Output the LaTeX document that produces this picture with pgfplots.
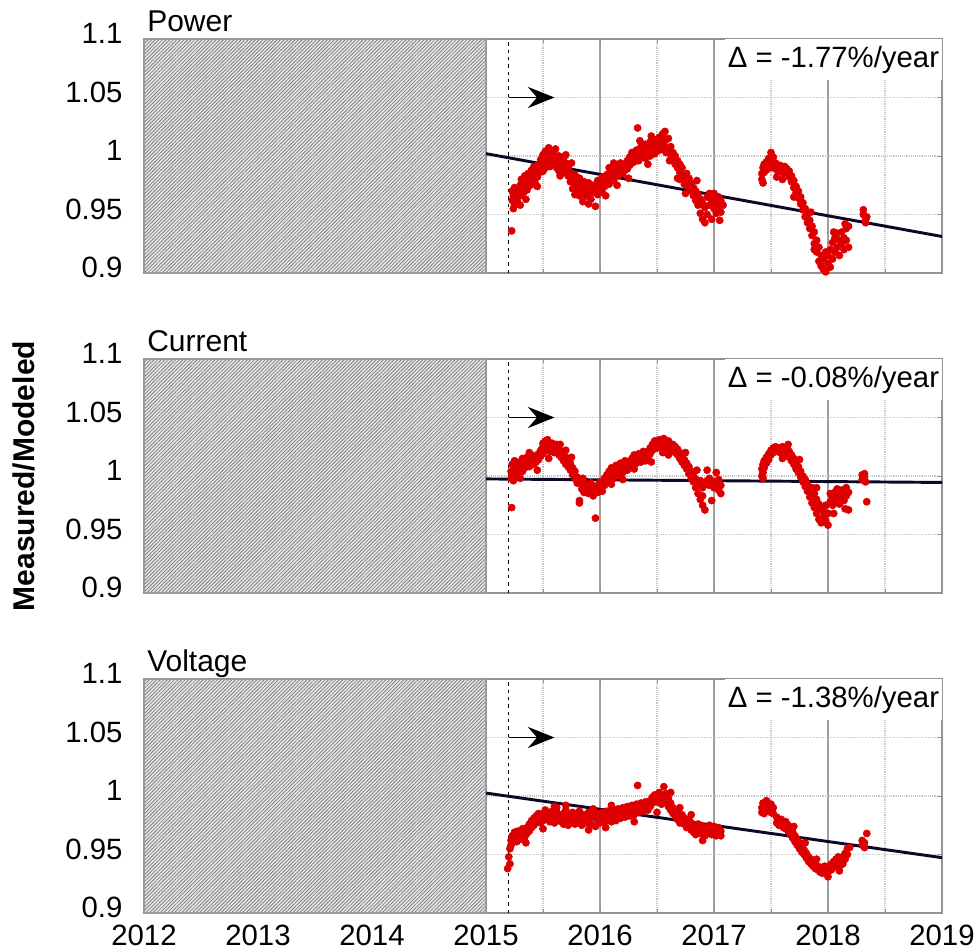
\documentclass[border=0pt]{standalone}
\usepackage{fontspec}
\setmainfont{Liberation Sans}
\usepackage{pgfplots}
\pgfplotsset{compat=1.18}
\usetikzlibrary{patterns.meta,arrows.meta}

\definecolor{dotred}{RGB}{222,0,0}
\definecolor{trendc}{RGB}{10,10,40}

\pgfplotsset{
  panel/.style={
    scale only axis, width=598.5pt, height=175.5pt,
    xmin=2012, xmax=2019, ymin=0.9, ymax=1.1,
    xtick={2012,2013,2014,2015,2016,2017,2018,2019},
    minor xtick={2012.5,2013.5,2014.5,2015.5,2016.5,2017.5,2018.5},
    ytick={0.9,0.95,1,1.05,1.1},
    yticklabels={0.9,0.95,1,1.05,1.1},
    xmajorgrids, xminorgrids, ymajorgrids,
    major x grid style={gray!75, solid, line width=0.8pt},
    minor x grid style={gray!45, densely dotted, line width=0.8pt},
    major y grid style={gray!45, densely dotted, line width=0.8pt},
    axis line style={gray!85, line width=1pt},
    tick style={gray!85, line width=0.6pt},
    major tick length=4pt, minor tick length=3pt, tick align=inside,
    ticklabel style={font=\fontsize{22}{26}\selectfont},
    yticklabel style={anchor=east, inner sep=0pt, xshift=-16pt, yshift=4pt},
    xticklabel style={anchor=north, inner sep=0pt, yshift=-9pt},
    /pgf/number format/assume math mode=true,
  },
  hatch/.style={draw=gray!80, line width=0.9pt, fill=gray!20,
    postaction={pattern={Lines[angle=45,distance=1.9pt,line width=0.5pt]}, pattern color=black!55}},
  startline/.style={black, line width=0.7pt, dash pattern=on 2.5pt off 3pt},
  dots/.style={only marks, mark=*, mark size=2.7pt, color=dotred},
  trend/.style={trendc, line width=2.2pt},
}
\tikzset{bigarrow/.style={black, line width=0.9pt, arrows={-Stealth[length=20pt,width=16pt,inset=7pt]}}}

\begin{document}
\begin{tikzpicture}

% Power
\begin{axis}[panel, at={(0,0)}, anchor=north west, xticklabels=\empty]
\addplot[hatch] coordinates {(2012,0.9)(2012,1.1)(2015,1.1)(2015,0.9)(2012,0.9)};
\addplot[startline] coordinates {(2015.2,0.9)(2015.2,1.1)};
\addplot[bigarrow] coordinates {(2015.2,1.05)(2015.6,1.05)};
\addplot[dots] coordinates {
(2015.225,0.936)
(2015.23,0.962)(2015.23,0.970)(2015.24,0.955)(2015.24,0.966)
(2015.25,0.968)(2015.25,0.973)(2015.25,0.958)(2015.27,0.963)(2015.27,0.972)
(2015.28,0.960)(2015.28,0.968)(2015.30,0.975)(2015.30,0.966)(2015.31,0.971)(2015.31,0.980)
(2015.33,0.969)(2015.33,0.977)(2015.34,0.974)(2015.34,0.983)(2015.36,0.979)(2015.36,0.971)
(2015.37,0.985)(2015.37,0.976)(2015.39,0.982)(2015.39,0.975)(2015.40,0.988)(2015.40,0.979)
(2015.42,0.984)(2015.42,0.991)(2015.43,0.977)(2015.43,0.986)(2015.45,0.989)(2015.45,0.982)
(2015.46,0.993)(2015.46,0.985)(2015.48,0.990)(2015.48,0.997)
(2015.50,0.994)(2015.50,0.987)(2015.50,1.001)(2015.52,1.004)(2015.52,0.996)(2015.52,0.990)
(2015.54,0.998)(2015.54,1.002)(2015.54,0.993)(2015.56,0.996)(2015.56,1.000)(2015.56,0.991)
(2015.58,1.003)(2015.58,0.994)(2015.58,0.999)(2015.60,0.997)(2015.60,0.992)(2015.60,1.001)
(2015.62,0.995)(2015.62,0.990)(2015.62,0.999)(2015.64,1.000)(2015.64,0.993)(2015.64,0.987)
(2015.66,0.996)(2015.66,0.989)(2015.68,0.992)(2015.68,0.998)(2015.70,0.986)(2015.70,0.994)
(2015.72,0.983)(2015.72,0.990)(2015.74,0.978)(2015.74,0.986)(2015.76,0.981)(2015.76,0.972)
(2015.78,0.976)(2015.78,0.984)(2015.78,0.967)(2015.80,0.979)(2015.80,0.970)
(2015.82,0.973)(2015.82,0.981)(2015.82,0.966)(2015.84,0.976)(2015.84,0.969)
(2015.86,0.971)(2015.86,0.978)(2015.88,0.974)(2015.88,0.966)(2015.90,0.968)(2015.90,0.977)
(2015.92,0.972)(2015.92,0.963)(2015.94,0.975)(2015.94,0.969)(2015.96,0.957)(2015.96,0.970)
(2015.98,0.974)(2015.98,0.967)(2015.98,0.979)(2016.00,0.972)(2016.00,0.978)
(2016.02,0.976)(2016.02,0.969)(2016.02,0.982)(2016.04,0.980)(2016.04,0.974)
(2016.06,0.978)(2016.06,0.984)(2016.08,0.985)(2016.08,0.976)(2016.08,0.990)
(2016.10,0.982)(2016.10,0.989)(2016.12,0.988)(2016.12,0.979)(2016.14,0.986)(2016.14,0.992)
(2016.16,0.990)(2016.16,0.983)(2016.18,0.987)(2016.18,0.994)(2016.20,0.991)(2016.20,0.985)
(2016.22,0.993)(2016.22,0.988)(2016.24,0.996)(2016.24,0.989)(2016.26,0.992)(2016.26,0.999)
(2016.28,0.997)(2016.28,1.003)(2016.28,0.994)(2016.30,1.000)(2016.30,0.995)
(2016.32,0.998)(2016.32,1.005)(2016.33,1.024)(2016.34,1.002)(2016.34,0.996)
(2016.36,1.004)(2016.36,0.999)(2016.36,1.008)(2016.38,1.001)(2016.38,1.006)
(2016.40,1.003)(2016.40,0.998)(2016.40,1.010)(2016.42,1.007)(2016.42,1.001)
(2016.44,1.005)(2016.44,1.012)(2016.44,1.000)(2016.46,1.009)(2016.46,1.003)
(2016.48,1.006)(2016.48,1.014)(2016.48,1.002)(2016.50,1.011)(2016.50,1.004)(2016.50,1.008)
(2016.52,1.009)(2016.52,1.016)(2016.52,1.005)(2016.54,1.012)(2016.54,1.007)(2016.55,1.019)
(2016.56,1.010)(2016.56,1.005)(2016.58,1.014)(2016.58,1.003)(2016.60,1.005)(2016.60,1.015)
(2016.62,1.001)(2016.62,1.008)(2016.64,0.997)(2016.64,1.003)(2016.66,0.993)(2016.66,1.000)
(2016.68,0.990)(2016.68,0.996)(2016.70,0.986)(2016.70,0.993)(2016.70,0.980)
(2016.72,0.984)(2016.72,0.990)(2016.74,0.981)(2016.74,0.976)(2016.76,0.978)(2016.76,0.985)
(2016.78,0.974)(2016.78,0.981)(2016.80,0.970)(2016.80,0.977)(2016.82,0.966)(2016.82,0.973)
(2016.84,0.962)(2016.84,0.970)(2016.86,0.958)(2016.86,0.967)(2016.88,0.951)(2016.88,0.963)
(2016.90,0.946)(2016.90,0.960)(2016.92,0.943)(2016.92,0.956)(2016.94,0.950)(2016.94,0.965)
(2016.96,0.958)(2016.96,0.968)(2016.98,0.946)(2016.98,0.962)
(2017.00,0.955)(2017.00,0.968)(2017.00,0.964)(2017.02,0.951)(2017.02,0.960)
(2017.04,0.957)(2017.04,0.965)(2017.06,0.952)(2017.06,0.962)(2017.08,0.958)
(2017.42,0.980)(2017.42,0.985)(2017.43,0.990)(2017.43,0.977)(2017.44,0.993)(2017.44,0.986)
(2017.46,0.988)(2017.46,0.995)(2017.48,0.991)(2017.48,0.998)
(2017.50,1.003)(2017.50,0.996)(2017.50,0.990)(2017.52,0.999)(2017.52,0.993)
(2017.54,0.994)(2017.54,0.989)(2017.56,0.991)(2017.56,0.987)(2017.58,0.989)(2017.58,0.992)
(2017.60,0.990)(2017.60,0.986)(2017.62,0.988)(2017.62,0.991)(2017.64,0.985)(2017.64,0.989)
(2017.66,0.982)(2017.66,0.987)(2017.68,0.978)(2017.68,0.983)(2017.70,0.973)(2017.70,0.979)
(2017.72,0.969)(2017.72,0.974)(2017.74,0.964)(2017.74,0.970)(2017.76,0.959)(2017.76,0.965)
(2017.78,0.954)(2017.78,0.960)(2017.80,0.948)(2017.80,0.955)(2017.82,0.943)(2017.82,0.950)
(2017.84,0.938)(2017.84,0.945)(2017.86,0.932)(2017.86,0.940)
(2017.88,0.925)(2017.88,0.935)(2017.88,0.920)(2017.90,0.918)(2017.90,0.928)
(2017.92,0.910)(2017.92,0.922)(2017.94,0.906)(2017.94,0.915)(2017.96,0.903)(2017.96,0.912)
(2017.98,0.901)(2017.98,0.918)(2018.00,0.908)(2018.00,0.915)(2018.02,0.905)(2018.02,0.920)
(2018.04,0.912)(2018.04,0.926)(2018.06,0.918)(2018.06,0.930)(2018.08,0.922)(2018.08,0.934)
(2018.10,0.915)(2018.10,0.928)(2018.12,0.925)(2018.12,0.935)(2018.14,0.920)(2018.14,0.930)
(2018.16,0.928)(2018.16,0.938)(2018.18,0.940)(2018.18,0.922)
(2018.31,0.950)(2018.31,0.954)(2018.33,0.946)(2018.33,0.943)(2018.34,0.948)
};
\addplot[dots] coordinates {
(2015.30,0.958)(2015.35,0.963)(2015.45,0.974)(2015.55,1.007)(2015.61,1.006)(2015.70,1.001)
(2015.75,0.994)(2015.85,0.961)(2015.90,0.959)(2016.05,0.966)(2016.15,0.975)(2016.25,0.981)
(2016.35,1.013)(2016.45,1.017)(2016.57,1.021)(2016.61,0.996)(2016.68,0.981)(2016.75,0.968)
(2016.85,0.979)(2017.05,0.945)(2017.55,0.982)(2017.70,0.965)(2017.85,0.952)(2018.05,0.935)
(2018.15,0.942)(2015.65,0.983)(2016.12,0.994)(2016.42,0.993)(2017.60,0.980)
};
\addplot[trend] coordinates {(2015,1.002)(2019,0.9312)};
\node[anchor=north east, fill=white, inner xsep=2pt, inner ysep=5pt,
  font=\fontsize{22}{26}\selectfont] at (rel axis cs:1,1) {Δ = -1.77\%/year};
\end{axis}

% Current
\begin{axis}[panel, at={(0,-240pt)}, anchor=north west, xticklabels=\empty]
\addplot[hatch] coordinates {(2012,0.9)(2012,1.1)(2015,1.1)(2015,0.9)(2012,0.9)};
\addplot[startline] coordinates {(2015.2,0.9)(2015.2,1.1)};
\addplot[bigarrow] coordinates {(2015.2,1.05)(2015.6,1.05)};
\addplot[dots] coordinates {
(2015.225,0.973)
(2015.22,1.004)(2015.22,0.998)(2015.23,1.010)(2015.23,1.001)(2015.24,1.002)(2015.24,0.996)
(2015.25,1.007)(2015.25,1.013)(2015.27,1.004)(2015.27,1.009)(2015.28,1.001)(2015.28,1.011)
(2015.30,1.006)(2015.30,1.012)(2015.32,1.009)(2015.32,1.004)(2015.32,1.015)
(2015.34,1.012)(2015.34,1.007)(2015.36,1.010)(2015.36,1.016)(2015.38,1.014)(2015.38,1.008)
(2015.40,1.012)(2015.40,1.018)(2015.42,1.015)(2015.42,1.010)(2015.44,1.017)(2015.44,1.012)
(2015.46,1.019)(2015.46,1.014)(2015.48,1.022)(2015.48,1.017)
(2015.50,1.025)(2015.50,1.019)(2015.50,1.028)(2015.52,1.030)(2015.52,1.024)
(2015.54,1.027)(2015.54,1.022)(2015.54,1.031)(2015.56,1.026)(2015.56,1.021)
(2015.58,1.028)(2015.58,1.023)(2015.60,1.025)(2015.60,1.020)(2015.62,1.027)(2015.62,1.021)
(2015.64,1.023)(2015.64,1.018)(2015.66,1.021)(2015.66,1.016)(2015.68,1.019)(2015.68,1.013)
(2015.70,1.016)(2015.70,1.010)(2015.72,1.014)(2015.72,1.008)(2015.74,1.011)(2015.74,1.005)
(2015.76,1.007)(2015.76,1.001)(2015.78,1.004)(2015.78,0.998)(2015.80,0.999)(2015.80,0.994)
(2015.82,0.979)(2015.82,0.977)(2015.82,0.996)(2015.84,0.993)(2015.84,0.989)
(2015.86,0.991)(2015.86,0.986)(2015.88,0.993)(2015.88,0.988)(2015.90,0.990)(2015.90,0.985)
(2015.92,0.987)(2015.92,0.994)(2015.94,0.988)(2015.94,0.983)(2015.96,0.964)(2015.96,0.990)
(2015.98,0.986)(2015.98,0.992)(2016.00,0.989)(2016.00,0.995)(2016.02,0.987)(2016.02,0.993)
(2016.04,0.992)(2016.04,0.998)(2016.06,0.995)(2016.06,1.001)(2016.08,0.997)(2016.08,1.004)
(2016.10,1.000)(2016.10,1.007)(2016.12,0.998)(2016.12,1.004)(2016.14,1.003)(2016.14,1.009)
(2016.16,1.001)(2016.16,1.006)(2016.18,1.005)(2016.18,1.011)(2016.20,1.003)(2016.20,1.009)
(2016.22,1.007)(2016.22,1.013)(2016.24,1.010)(2016.24,1.005)(2016.26,1.012)(2016.26,1.008)
(2016.28,1.015)(2016.28,1.009)(2016.30,1.013)(2016.30,1.018)(2016.32,1.011)(2016.32,1.016)
(2016.34,1.014)(2016.34,1.019)(2016.36,1.017)(2016.36,1.012)(2016.38,1.015)(2016.38,1.021)
(2016.40,1.018)(2016.40,1.013)(2016.42,1.021)(2016.42,1.016)(2016.44,1.019)(2016.44,1.024)
(2016.46,1.022)(2016.46,1.027)(2016.48,1.026)(2016.48,1.030)(2016.50,1.028)(2016.50,1.024)
(2016.52,1.031)(2016.52,1.025)(2016.54,1.029)(2016.54,1.026)(2016.56,1.032)(2016.56,1.027)
(2016.58,1.028)(2016.58,1.024)(2016.60,1.026)(2016.60,1.030)(2016.62,1.025)(2016.62,1.021)
(2016.64,1.023)(2016.64,1.027)(2016.66,1.020)(2016.66,1.025)(2016.68,1.018)(2016.68,1.023)
(2016.70,1.015)(2016.70,1.020)(2016.72,1.012)(2016.72,1.017)(2016.74,1.009)(2016.74,1.014)
(2016.76,1.006)(2016.76,1.011)(2016.78,1.002)(2016.78,1.008)(2016.80,0.998)(2016.80,1.004)
(2016.82,0.995)(2016.82,1.000)(2016.84,0.990)(2016.84,0.997)(2016.86,0.985)(2016.86,0.994)
(2016.88,0.980)(2016.88,0.996)(2016.90,0.975)(2016.90,0.990)(2016.92,0.971)(2016.92,0.993)
(2016.94,0.996)(2016.94,1.005)(2016.96,0.992)(2016.96,0.998)(2016.98,0.979)(2016.98,0.993)
(2017.00,0.995)(2017.00,0.990)(2017.02,1.003)(2017.02,0.994)(2017.04,0.997)(2017.04,0.988)
(2017.06,0.992)(2017.06,0.985)
(2017.42,1.000)(2017.42,1.006)(2017.43,1.003)(2017.43,0.998)(2017.43,1.010)
(2017.44,1.007)(2017.44,1.013)(2017.46,1.011)(2017.46,1.016)(2017.48,1.014)(2017.48,1.019)
(2017.50,1.018)(2017.50,1.022)(2017.52,1.020)(2017.52,1.024)(2017.54,1.022)(2017.54,1.025)
(2017.56,1.021)(2017.56,1.024)(2017.58,1.023)(2017.58,1.020)(2017.60,1.025)(2017.60,1.021)
(2017.62,1.022)(2017.62,1.019)(2017.64,1.020)(2017.64,1.024)(2017.66,1.016)(2017.66,1.021)
(2017.68,1.013)(2017.68,1.018)(2017.70,1.010)(2017.70,1.015)(2017.72,1.006)(2017.72,1.012)
(2017.74,1.003)(2017.74,1.008)(2017.76,0.999)(2017.76,1.004)(2017.78,0.995)(2017.78,1.000)
(2017.80,0.991)(2017.80,0.997)(2017.82,0.987)(2017.82,0.993)(2017.84,0.982)(2017.84,0.988)
(2017.86,0.977)(2017.86,0.990)(2017.88,0.973)(2017.88,0.985)(2017.90,0.968)(2017.90,0.980)
(2017.92,0.963)(2017.92,0.976)(2017.94,0.960)(2017.94,0.972)(2017.96,0.965)(2017.96,0.970)
(2017.98,0.962)(2017.98,0.975)(2018.00,0.958)(2018.00,0.968)(2018.02,0.978)(2018.02,0.985)
(2018.04,0.982)(2018.04,0.975)(2018.06,0.986)(2018.06,0.978)(2018.08,0.980)(2018.08,0.989)
(2018.10,0.984)(2018.10,0.976)(2018.12,0.988)(2018.12,0.981)(2018.14,0.979)(2018.14,0.986)
(2018.16,0.983)(2018.16,0.990)(2018.18,0.986)(2018.18,0.971)
(2018.30,1.001)(2018.30,0.997)(2018.32,0.999)(2018.32,1.002)(2018.33,0.995)(2018.34,0.978)
};
\addplot[dots] coordinates {
(2015.30,0.998)(2015.45,1.005)(2015.55,1.015)(2015.65,1.027)(2015.75,1.016)(2015.85,0.998)
(2016.10,0.993)(2016.30,1.006)(2016.45,1.012)(2016.60,1.018)(2016.75,1.020)(2016.85,1.005)
(2017.60,1.015)(2017.75,1.014)(2017.90,0.990)(2018.05,0.968)(2018.15,0.972)(2015.38,1.020)
(2015.70,1.022)(2016.20,0.997)(2016.55,1.020)(2016.90,0.983)(2017.65,1.027)
};
\addplot[trend] coordinates {(2015,0.9975)(2019,0.9945)};
\node[anchor=north east, fill=white, inner xsep=2pt, inner ysep=5pt,
  font=\fontsize{22}{26}\selectfont] at (rel axis cs:1,1) {Δ = -0.08\%/year};
\end{axis}

% Voltage
\begin{axis}[panel, at={(0,-480pt)}, anchor=north west,
  xticklabels={2012,2013,2014,2015,2016,2017,2018,2019}]
\addplot[hatch] coordinates {(2012,0.9)(2012,1.1)(2015,1.1)(2015,0.9)(2012,0.9)};
\addplot[startline] coordinates {(2015.2,0.9)(2015.2,1.1)};
\addplot[bigarrow] coordinates {(2015.2,1.05)(2015.6,1.05)};
\addplot[dots] coordinates {
(2015.19,0.938)(2015.20,0.948)(2015.21,0.955)(2015.21,0.942)
(2015.22,0.962)(2015.22,0.958)(2015.23,0.966)(2015.23,0.960)(2015.25,0.964)(2015.25,0.969)
(2015.27,0.961)(2015.27,0.967)(2015.28,0.965)(2015.28,0.970)(2015.30,0.963)(2015.30,0.968)
(2015.32,0.967)(2015.32,0.972)(2015.34,0.970)(2015.34,0.965)(2015.36,0.973)(2015.36,0.968)
(2015.38,0.976)(2015.38,0.970)(2015.40,0.979)(2015.40,0.973)(2015.42,0.981)(2015.42,0.975)
(2015.44,0.983)(2015.44,0.977)(2015.46,0.980)(2015.46,0.985)(2015.48,0.982)(2015.48,0.977)
(2015.50,0.985)(2015.50,0.979)(2015.52,0.983)(2015.52,0.988)(2015.54,0.980)(2015.54,0.986)
(2015.56,0.984)(2015.56,0.978)(2015.58,0.987)(2015.58,0.981)(2015.60,0.983)(2015.60,0.977)
(2015.62,0.986)(2015.62,0.990)(2015.64,0.980)(2015.64,0.984)(2015.66,0.978)(2015.66,0.983)
(2015.68,0.985)(2015.68,0.976)(2015.70,0.982)(2015.70,0.988)(2015.72,0.979)(2015.72,0.975)
(2015.74,0.984)(2015.74,0.977)(2015.76,0.981)(2015.76,0.986)(2015.78,0.976)(2015.78,0.983)
(2015.80,0.980)(2015.80,0.985)(2015.82,0.977)(2015.82,0.987)(2015.84,0.982)(2015.84,0.975)
(2015.86,0.979)(2015.86,0.984)(2015.88,0.983)(2015.88,0.977)(2015.90,0.980)(2015.90,0.986)
(2015.92,0.976)(2015.92,0.982)(2015.94,0.984)(2015.94,0.989)(2015.96,0.974)(2015.96,0.981)
(2015.98,0.979)(2015.98,0.985)(2016.00,0.983)(2016.00,0.977)(2016.02,0.981)(2016.02,0.986)
(2016.04,0.978)(2016.04,0.984)(2016.06,0.982)(2016.06,0.987)(2016.08,0.980)(2016.08,0.985)
(2016.10,0.984)(2016.10,0.978)(2016.12,0.982)(2016.12,0.988)(2016.14,0.979)(2016.14,0.985)
(2016.16,0.983)(2016.16,0.989)(2016.18,0.981)(2016.18,0.986)(2016.20,0.984)(2016.20,0.990)
(2016.22,0.982)(2016.22,0.987)(2016.24,0.985)(2016.24,0.991)(2016.26,0.983)(2016.26,0.988)
(2016.28,0.986)(2016.28,0.992)(2016.30,0.984)(2016.30,0.989)(2016.32,0.988)(2016.32,0.993)
(2016.33,1.009)(2016.34,0.986)(2016.34,0.991)(2016.36,0.989)(2016.36,0.994)
(2016.38,0.987)(2016.38,0.992)(2016.40,0.990)(2016.40,0.995)(2016.42,0.993)(2016.42,0.988)
(2016.44,0.996)(2016.44,0.991)(2016.46,0.994)(2016.46,0.999)(2016.48,0.997)(2016.48,1.001)
(2016.50,0.995)(2016.50,1.000)(2016.52,0.998)(2016.52,1.003)(2016.54,0.993)(2016.54,1.001)
(2016.56,1.008)(2016.56,0.997)(2016.58,0.995)(2016.58,1.002)(2016.60,0.991)(2016.60,0.998)
(2016.62,0.988)(2016.62,0.994)(2016.64,0.985)(2016.64,0.990)(2016.66,0.983)(2016.66,0.987)
(2016.68,0.986)(2016.68,0.980)(2016.70,0.982)(2016.70,0.977)(2016.72,0.979)(2016.72,0.984)
(2016.74,0.976)(2016.74,0.981)(2016.76,0.978)(2016.76,0.973)(2016.78,0.974)(2016.78,0.980)
(2016.80,0.971)(2016.80,0.977)(2016.82,0.975)(2016.82,0.969)(2016.84,0.972)(2016.84,0.967)
(2016.86,0.970)(2016.86,0.976)(2016.88,0.973)(2016.88,0.968)(2016.90,0.969)(2016.90,0.974)
(2016.92,0.971)(2016.92,0.966)(2016.94,0.968)(2016.94,0.973)(2016.96,0.970)(2016.96,0.975)
(2016.98,0.967)(2016.98,0.972)(2017.00,0.969)(2017.00,0.974)(2017.02,0.971)(2017.02,0.966)
(2017.04,0.968)(2017.04,0.973)(2017.06,0.970)(2017.06,0.966)
(2017.42,0.990)(2017.42,0.986)(2017.43,0.994)(2017.43,0.988)(2017.44,0.992)(2017.44,0.985)
(2017.46,0.996)(2017.46,0.989)(2017.48,0.991)(2017.48,0.987)(2017.50,0.993)(2017.50,0.986)
(2017.52,0.990)(2017.52,0.985)(2017.55,0.982)(2017.55,0.977)(2017.57,0.979)(2017.57,0.975)
(2017.59,0.980)(2017.59,0.976)(2017.61,0.977)(2017.61,0.973)(2017.63,0.978)(2017.63,0.972)
(2017.65,0.975)(2017.65,0.970)(2017.67,0.972)(2017.67,0.967)(2017.69,0.969)(2017.69,0.964)
(2017.71,0.966)(2017.71,0.961)(2017.73,0.963)(2017.73,0.958)(2017.75,0.960)(2017.75,0.955)
(2017.77,0.957)(2017.77,0.952)(2017.79,0.954)(2017.79,0.950)(2017.81,0.951)(2017.81,0.947)
(2017.83,0.948)(2017.83,0.944)(2017.85,0.946)(2017.85,0.942)(2017.87,0.944)(2017.87,0.940)
(2017.89,0.942)(2017.89,0.938)(2017.91,0.940)(2017.91,0.937)(2017.93,0.939)(2017.93,0.935)
(2017.95,0.937)(2017.95,0.934)(2017.97,0.936)(2017.97,0.940)(2017.99,0.934)(2017.99,0.938)
(2018.01,0.936)(2018.01,0.940)(2018.03,0.937)(2018.03,0.942)(2018.05,0.939)(2018.05,0.944)
(2018.07,0.941)(2018.07,0.946)(2018.09,0.943)(2018.09,0.948)(2018.11,0.945)(2018.11,0.941)
(2018.13,0.948)(2018.13,0.942)(2018.15,0.946)(2018.15,0.951)(2018.17,0.950)(2018.17,0.955)
(2018.19,0.956)
(2018.30,0.962)(2018.30,0.958)(2018.32,0.960)(2018.32,0.956)(2018.34,0.968)
};
\addplot[dots] coordinates {
(2015.50,0.972)(2015.70,0.992)(2015.90,0.971)(2016.10,0.992)(2016.30,0.978)(2016.50,0.986)
(2016.70,0.990)(2016.90,0.962)(2017.70,0.974)(2017.90,0.946)(2018.10,0.936)(2015.35,0.960)
(2015.60,0.991)(2016.05,0.973)(2016.62,1.003)(2016.80,0.984)(2017.80,0.960)(2018.00,0.931)
};
\addplot[trend] coordinates {(2015,1.0025)(2019,0.9473)};
\node[anchor=north east, fill=white, inner xsep=2pt, inner ysep=5pt,
  font=\fontsize{22}{26}\selectfont] at (rel axis cs:1,1) {Δ = -1.38\%/year};
\end{axis}

\begin{scope}[every node/.style={inner sep=0pt, font=\fontsize{22.5}{26}\selectfont}]
\node[anchor=base west] at (2.25pt,6pt) {Power};
\node[anchor=base west] at (2.25pt,-234pt) {Current};
\node[anchor=base west] at (2.25pt,-474pt) {Voltage};
\node[rotate=90, font=\bfseries\fontsize{22.5}{26}\selectfont] at (-90pt,-327.75pt) {Measured/Modeled};
\end{scope}

\pgfresetboundingbox
\path[use as bounding box] (-108pt,29.25pt) rectangle (626.25pt,-684pt);
\end{tikzpicture}
\end{document}
